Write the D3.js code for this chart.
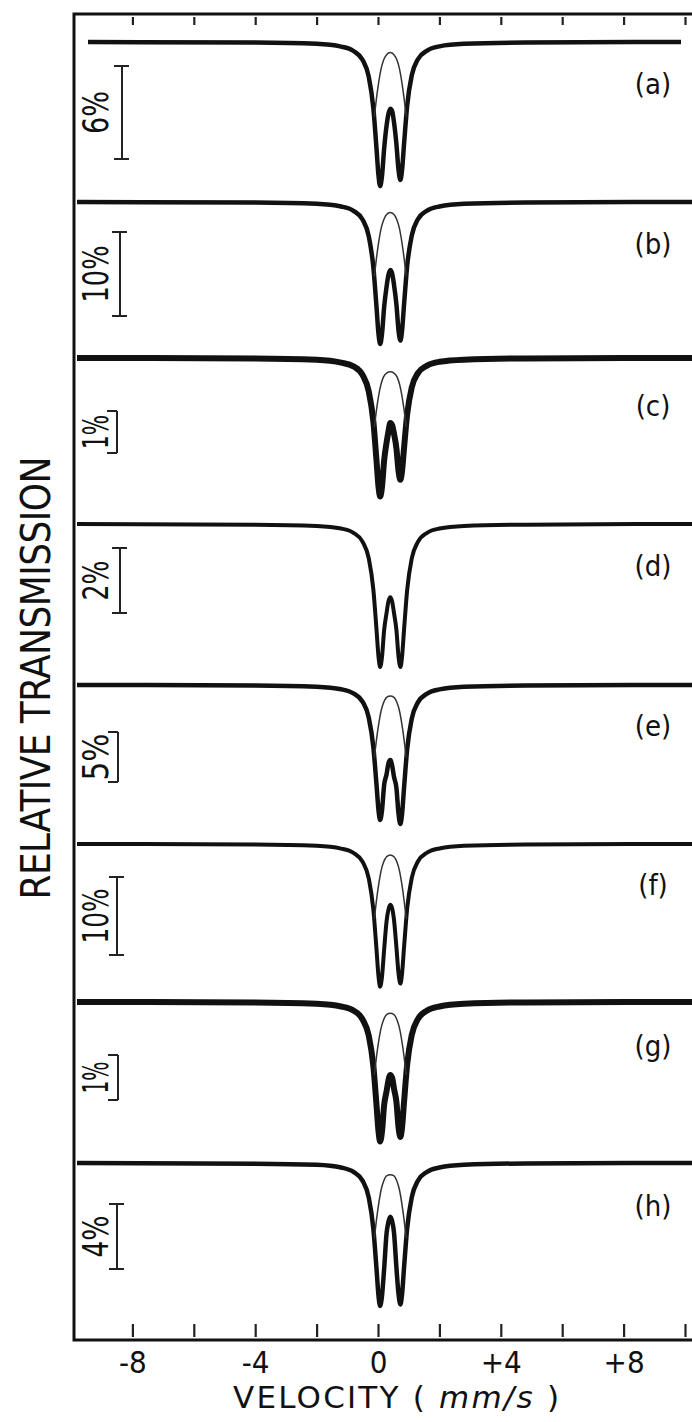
<!DOCTYPE html>
<html><head><meta charset="utf-8">
<script src="https://cdn.jsdelivr.net/npm/d3@7"></script>
<style>
html,body{margin:0;padding:0;background:#fff;}
svg{display:block;}
text{font-family:"DejaVu Sans Condensed","Liberation Sans Narrow","DejaVu Sans",sans-serif;fill:#111;}
</style></head><body>
<svg id="c" width="692" height="1422"></svg>
<script>
// ---------- data ----------
const panelLabels = ["(a)","(b)","(c)","(d)","(e)","(f)","(g)","(h)"];
const scaleBarPercent = [6,10,1,2,5,10,1,4];
const tickValues = [-8,-6,-4,-2,0,2,4,6,8,10];
const tickLabelValues = [-8,-4,0,4,8];
const tickLabelText = ["-8","-4","0","+4","+8"];

// velocity (mm/s) grid at which absorption (%) was read
const velocity = [-9.9,-4,-2,-1.2,-0.8,-0.5,-0.3,-0.15,-0.05,0.02,0.07,0.13,0.2,0.28,0.34,0.4,0.46,0.52,0.6,0.67,0.73,0.78,0.85,0.95,1.1,1.3,1.6,2.0,2.8,4.8,10.25];
const absorptionA = [0,.04,.12,.30,.58,1.16,2.25,4.30,6.84,8.70,9.30,8.65,6.88,5.39,4.65,4.30,4.45,5.16,6.59,8.28,8.90,8.33,6.54,4.11,2.15,1.11,.55,.28,.12,.04,0];
const absorptionB = [0,.07,.22,.54,1.05,2.11,4.09,7.81,12.42,15.82,16.9,15.72,12.51,10.06,8.70,8.10,8.50,9.82,12.21,15.35,16.5,15.44,12.13,7.62,3.99,2.06,1.02,.53,.21,.07,0];
const absorptionC = [0,.01,.04,.11,.20,.41,.80,1.52,2.43,3.09,3.30,3.07,2.44,2.01,1.75,1.55,1.60,1.80,2.15,2.70,2.90,2.71,2.13,1.34,.70,.36,.18,.09,.04,.01,0];
const absorptionD = [0,.02,.06,.14,.27,.55,1.06,2.03,3.23,4.12,4.40,4.09,3.26,2.73,2.38,2.25,2.38,2.73,3.26,4.09,4.40,4.12,3.23,2.03,1.06,.55,.27,.14,.06,.02,0];
const absorptionE = [0,.05,.18,.43,.84,1.69,3.27,6.24,9.92,12.64,13.50,12.56,9.99,8.91,7.83,7.50,8.06,9.17,10.29,12.93,13.90,13.01,10.22,6.42,3.36,1.74,.86,.44,.18,.06,0];
const absorptionF = [0,.07,.24,.59,1.13,2.29,4.43,8.45,13.45,17.13,18.30,17.02,13.54,9.88,8.42,7.80,8.23,9.67,13.25,16.65,17.90,16.75,13.16,8.27,4.33,2.24,1.11,.57,.23,.07,0];
const absorptionG = [0,.01,.04,.10,.19,.39,.75,1.43,2.28,2.90,3.10,2.88,2.29,1.98,1.74,1.62,1.68,1.92,2.22,2.79,3.00,2.81,2.21,1.39,.73,.38,.19,.10,.04,.01,0];
const absorptionH = [0,.04,.11,.28,.55,1.10,2.13,4.07,6.47,8.24,8.80,8.18,6.51,4.31,3.61,3.30,3.57,4.26,6.44,8.09,8.70,8.14,6.39,4.02,2.11,1.09,.54,.28,.11,.03,0];

// fitted sub-spectrum (thin line), visible between the two dips
const subVelocity = [-0.12,-0.05,0.02,0.1,0.18,0.28,0.4,0.52,0.62,0.7,0.78,0.85,0.92];
const subA = [4.82,3.64,2.64,1.73,1.18,.82,.68,.82,1.18,1.73,2.64,3.64,4.82];
const subB = [8.85,6.68,4.84,3.17,2.17,1.50,1.25,1.50,2.17,3.17,4.84,6.68,8.85];
const subC = [1.64,1.24,.90,.62,.45,.36,.33,.36,.45,.62,.90,1.24,1.64];
const subE = [7.26,5.48,3.97,2.60,1.78,1.23,1.10,1.23,1.78,2.60,3.97,5.48,7.26];
const subF = [9.59,7.24,5.25,3.44,2.35,1.63,1.40,1.63,2.35,3.44,5.25,7.24,9.59];
const subG = [1.62,1.22,.88,.58,.40,.28,.25,.28,.40,.58,.88,1.22,1.62];
const subH = [4.64,3.50,2.54,1.66,1.14,.79,.72,.79,1.14,1.66,2.54,3.50,4.64];

const absorption = [absorptionA,absorptionB,absorptionC,absorptionD,absorptionE,absorptionF,absorptionG,absorptionH];
const subSpectra = [subA,subB,subC,null,subE,subF,subG,subH];

// ---------- layout ----------
const W = 692;
const frameLeft = 74, frameTop = 14, frameBottom = 1340;
const baselineY = [42,202,358,524,685,844,1002,1163];
const barTop    = [66,232,411,548,732,877,1055,1204];
const barBottom = [159,316,453,613,782,955,1100,1269];
const barX      = [122,120,117,120,118,117,118,117];
const barShape  = ["I","I","]","I","]","I","]","I"];
const barLabelLen = [43,57,34,40,47,55,32,42];
const labelY    = [83,243,405,565,725,884,1045,1205];
const dataStroke = [4.5,4.5,6,4,4.5,4,6,4.5];
const dataClipX = [[88,681],[77,692],[77,692],[77,692],[77,692],[77,692],[77,692],[77,692]];

const svg = d3.select("#c");
const x = d3.scaleLinear().domain([-10,10]).range([71,685]);
const defs = svg.append("defs");

// frame
svg.append("path")
  .attr("d",`M${W},${frameTop}H${frameLeft}V${frameBottom}H${W}`)
  .attr("fill","none").attr("stroke","#111").attr("stroke-width",3);

// ticks top and bottom (inside)
const topAxis = d3.axisBottom(x).tickValues(tickValues).tickSize(8).tickFormat("");
svg.append("g").attr("transform",`translate(0,${frameTop+3})`).call(topAxis)
  .call(g=>{g.select(".domain").remove(); g.selectAll("line").attr("stroke","#222").attr("stroke-width",2.2);});
const botAxis = d3.axisTop(x).tickValues(tickValues).tickSize(13).tickFormat("");
svg.append("g").attr("transform",`translate(0,${frameBottom-3})`).call(botAxis)
  .call(g=>{g.select(".domain").remove(); g.selectAll("line").attr("stroke","#222").attr("stroke-width",2.2);});

// tick labels
const lblAxis = d3.axisBottom(x).tickValues(tickLabelValues).tickSize(0).tickPadding(0)
  .tickFormat((d,i)=>tickLabelText[i]);
svg.append("g").attr("transform",`translate(0,1373)`).call(lblAxis)
  .call(g=>{g.select(".domain").remove();
    g.selectAll("text").attr("font-size",31).attr("dy",0).attr("y",0).attr("fill","#111")
     .style("font-family",'"DejaVu Sans Condensed","Liberation Sans Narrow","DejaVu Sans",sans-serif');});

// x title
const title = svg.append("text").attr("x",396).attr("y",1408).attr("text-anchor","middle")
  .attr("font-size",31).attr("textLength",326).attr("lengthAdjust","spacing")
  .style("font-family",'"DejaVu Sans",sans-serif');
title.append("tspan").text("VELOCITY ( ");
title.append("tspan").attr("font-style","italic").text("mm/s");
title.append("tspan").text(" )");

// y title
svg.append("text").attr("transform","translate(50,678) rotate(-90)")
  .attr("text-anchor","middle").attr("font-size",40)
  .attr("textLength",443).attr("lengthAdjust","spacing").text("RELATIVE TRANSMISSION");

// spectra
absorption.forEach((vals,i)=>{
  const y = d3.scaleLinear().domain([0,scaleBarPercent[i]])
    .range([baselineY[i], baselineY[i] + (barBottom[i]-barTop[i])]);
  const clipId = "clip"+i;
  defs.append("clipPath").attr("id",clipId).append("rect")
    .attr("x",dataClipX[i][0]).attr("y",baselineY[i]-30)
    .attr("width",dataClipX[i][1]-dataClipX[i][0]).attr("height",200);
  const g = svg.append("g");
  const line = d3.line().x((d,k)=>x(velocity[k])).y(d=>y(d)).curve(d3.curveMonotoneX);
  g.append("path").attr("d",line(vals)).attr("fill","none").attr("stroke","#111")
    .attr("clip-path",`url(#${clipId})`)
    .attr("stroke-width",dataStroke[i]).attr("stroke-linejoin","round");
  const sub = subSpectra[i];
  if(sub){
    const sl = d3.line().x((d,k)=>x(subVelocity[k])).y(d=>y(d)).curve(d3.curveMonotoneX);
    g.append("path").attr("d",sl(sub)).attr("fill","none").attr("stroke","#333").attr("stroke-width",1.5);
  }
  // scale bar
  const bx = barX[i], y0 = barTop[i], y1 = barBottom[i];
  const capL = barShape[i]==="]" ? 10 : 8, capR = barShape[i]==="]" ? 0 : 7;
  g.append("path").attr("d",`M${bx},${y0}V${y1}M${bx-capL},${y0}H${bx+capR}M${bx-capL},${y1}H${bx+capR}`)
    .attr("stroke","#222").attr("stroke-width",2).attr("fill","none");
  g.append("text").attr("transform",`translate(108,${(y0+y1)/2}) rotate(-90)`)
    .attr("text-anchor","middle").attr("font-size",36)
    .attr("textLength",barLabelLen[i]).attr("lengthAdjust","spacingAndGlyphs")
    .text(scaleBarPercent[i]+"%");
  // panel label
  svg.append("text").attr("x",653).attr("y",labelY[i]+11).attr("text-anchor","middle")
    .attr("font-size",29).text(panelLabels[i]);
});
</script>
</body></html>
